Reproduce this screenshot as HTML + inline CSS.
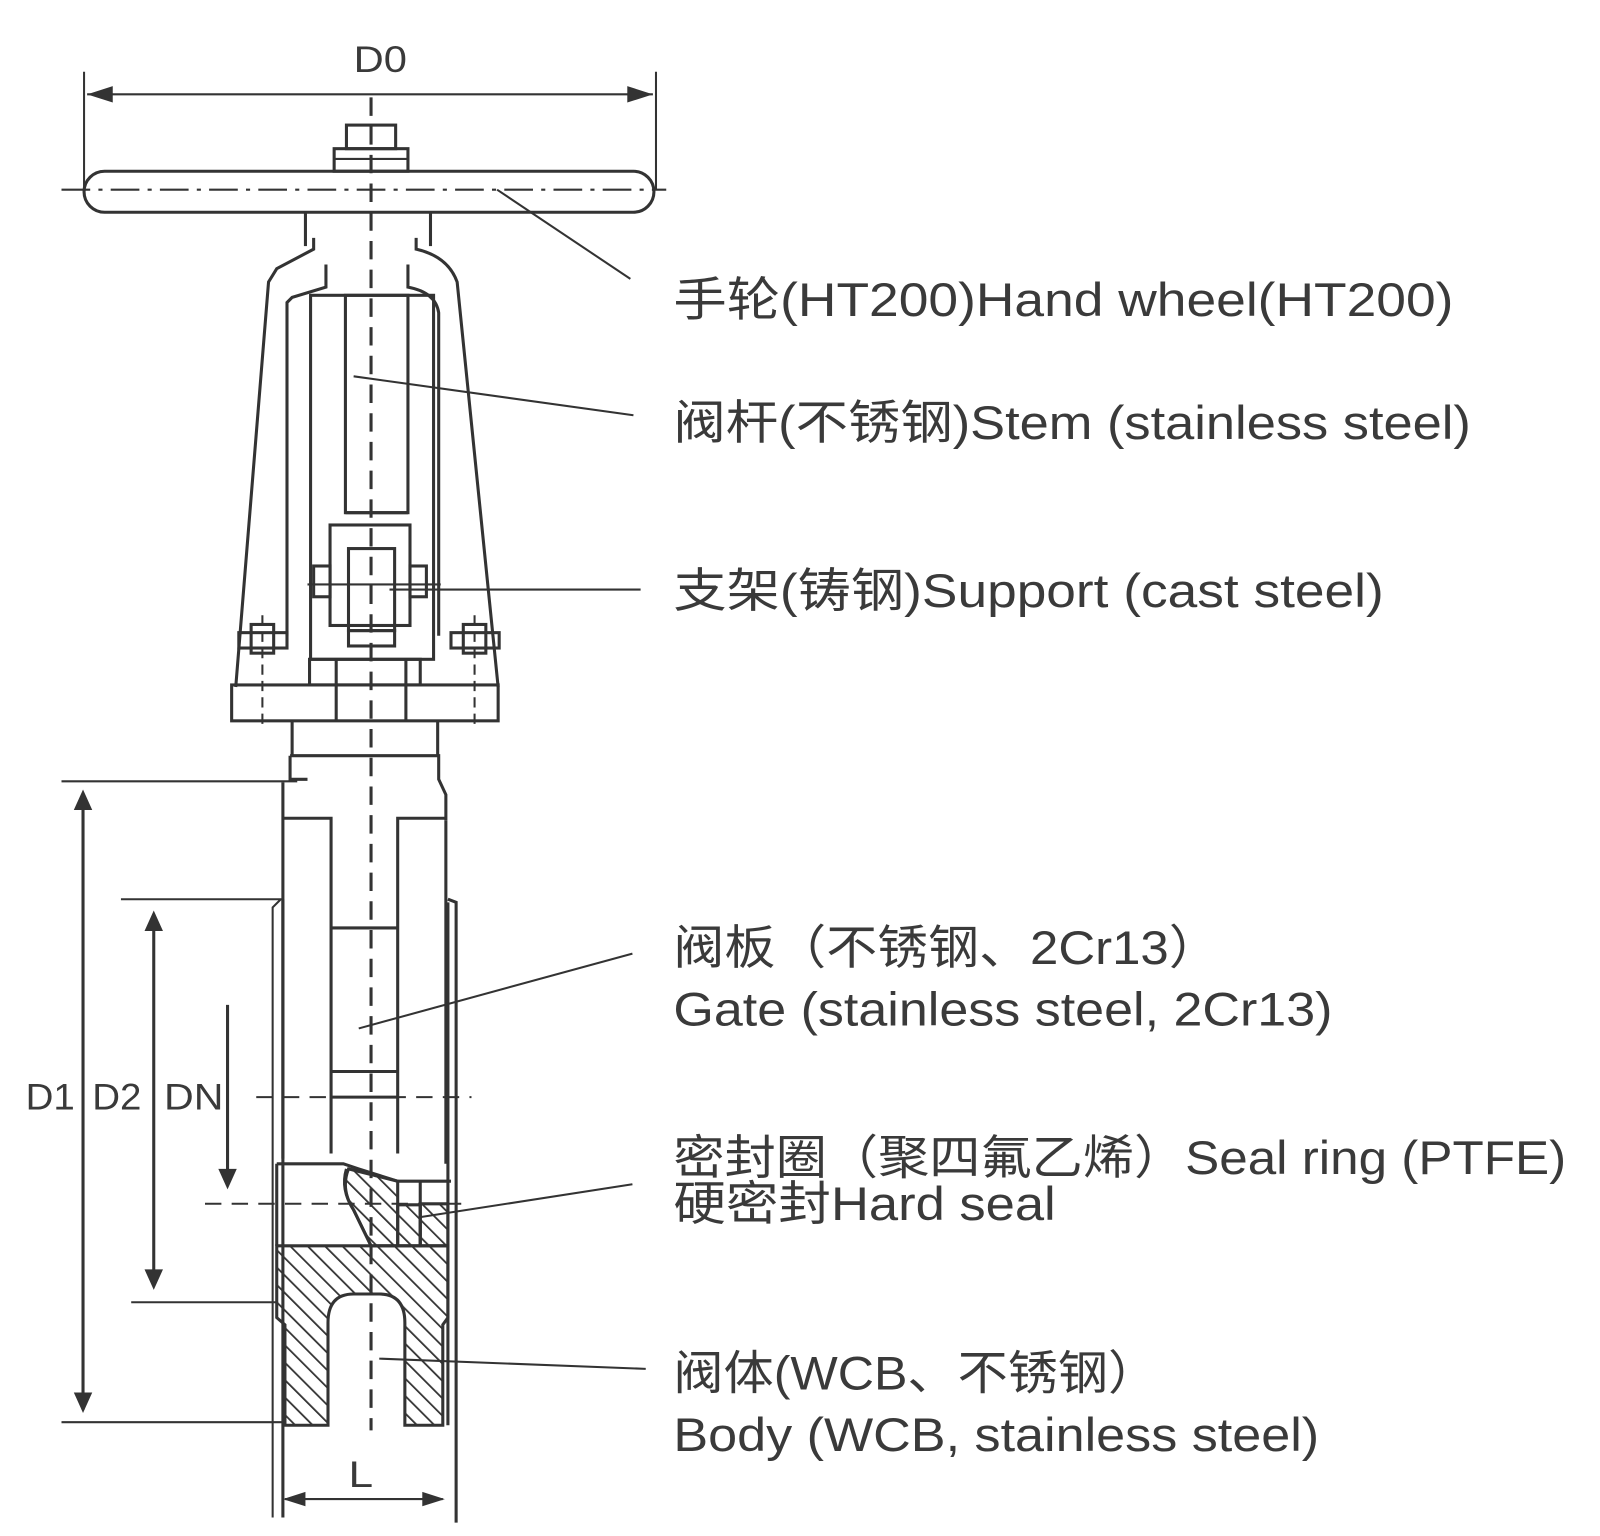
<!DOCTYPE html>
<html><head><meta charset="utf-8"><style>
html,body{margin:0;padding:0;background:#fff;}
svg{display:block;}
text{font-family:"Liberation Sans","Noto Sans CJK SC",sans-serif;fill:#3a3a3a;}
</style></head><body>
<svg width="1600" height="1536" viewBox="0 0 1561 1498" preserveAspectRatio="none" xmlns="http://www.w3.org/2000/svg">
<defs>
<pattern id="h" patternUnits="userSpaceOnUse" width="12" height="12" patternTransform="rotate(-45)">
<line x1="0" y1="0" x2="0" y2="12" stroke="#333" stroke-width="3.5"/>
</pattern>
</defs>
<g stroke="#333" stroke-width="3" fill="none">
<!-- centerline -->
<line x1="362" y1="95" x2="362" y2="1395" stroke-dasharray="18,10" stroke-width="3"/>
<!-- D0 -->
<line x1="82" y1="70" x2="82" y2="185" stroke-width="2"/>
<line x1="640" y1="70" x2="640" y2="185" stroke-width="2"/>
<line x1="85" y1="92" x2="637" y2="92" stroke-width="2"/>
<path d="M85 92 L110 84 L110 100 Z M637 92 L612 84 L612 100 Z" fill="#333" stroke="none"/>
<!-- hand wheel -->
<rect x="82" y="167" width="556" height="40" rx="20"/>
<line x1="60" y1="185" x2="650" y2="185" stroke-dasharray="28,8,4,8" stroke-width="2"/>
<rect x="338" y="122" width="48" height="23"/>
<rect x="326" y="145" width="72" height="22"/>
<line x1="326" y1="155" x2="398" y2="155" stroke-width="2"/>
<line x1="485" y1="185" x2="615" y2="272" stroke-width="2"/>
<!-- yoke -->
<line x1="298" y1="207" x2="298" y2="240"/>
<line x1="420" y1="207" x2="420" y2="240"/>
<path d="M306 232 V243 L270 262 L262 275 L230 670"/>
<path d="M318 258 V280 L285 290 L280 295 V620"/>
<path d="M406 232 V243 Q437 250 446 275 L486 670"/>
<path d="M398 258 V280 Q425 285 428 305 V620"/>
<rect x="303" y="288" width="120" height="355"/>
<rect x="337" y="288" width="61" height="212"/>
<line x1="337" y1="500" x2="398" y2="500"/>
<rect x="322" y="512" width="78" height="98"/>
<rect x="340" y="535" width="45" height="80"/>
<rect x="306" y="552" width="16" height="30"/>
<rect x="400" y="552" width="16" height="30"/>
<line x1="300" y1="570" x2="430" y2="570" stroke-width="2"/>
<rect x="340" y="615" width="45" height="15"/>
<!-- bolts -->
<rect x="233" y="617" width="47" height="15"/>
<rect x="245" y="609" width="22" height="28"/>
<rect x="440" y="617" width="47" height="15"/>
<rect x="452" y="609" width="22" height="28"/>
<line x1="256" y1="600" x2="256" y2="710" stroke-dasharray="10,6" stroke-width="2"/>
<line x1="463" y1="600" x2="463" y2="710" stroke-dasharray="10,6" stroke-width="2"/>
<!-- base plate -->
<rect x="302" y="643" width="108" height="25"/>
<rect x="226" y="668" width="260" height="35"/>
<line x1="328" y1="643" x2="328" y2="703"/>
<line x1="396" y1="643" x2="396" y2="703"/>
<!-- neck & bonnet -->
<path d="M285 703 V737 M427 703 V737"/>
<path d="M283 737 H428 V760 L435 775 V800"/>
<path d="M283 737 V760 H300 M276 763 V1130"/>
<!-- D1 -->
<line x1="60" y1="762" x2="290" y2="762" stroke-width="2"/>
<line x1="81" y1="780" x2="81" y2="1375" stroke-width="3"/>
<path d="M81 770 L72 790 L90 790 Z M81 1378 L72 1358 L90 1358 Z" fill="#333" stroke="none"/>
<line x1="60" y1="1387" x2="276" y2="1387" stroke-width="2"/>
<!-- body inner -->
<path d="M276 798 H323 V1125"/>
<path d="M435 798 H388 V1125"/>
<line x1="323" y1="905" x2="388" y2="905"/>
<line x1="323" y1="1045" x2="388" y2="1045"/>
<line x1="323" y1="1070" x2="388" y2="1070"/>
<line x1="435" y1="800" x2="435" y2="1135"/>
<path d="M266 1480 V885 L274 877 H118" stroke-width="2"/>
<path d="M445 1485 V880 L437 877"/>
<line x1="276" y1="877" x2="276" y2="1480"/>
<line x1="437" y1="880" x2="437" y2="1390"/>
<!-- D2 -->
<line x1="150" y1="900" x2="150" y2="1248" stroke-width="3"/>
<path d="M150 888 L141 908 L159 908 Z M150 1258 L141 1238 L159 1238 Z" fill="#333" stroke="none"/>
<line x1="128" y1="1270" x2="270" y2="1270" stroke-width="2"/>
<!-- DN -->
<line x1="222" y1="980" x2="222" y2="1150" stroke-width="3"/>
<path d="M222 1160 L213 1140 L231 1140 Z" fill="#333" stroke="none"/>
<line x1="250" y1="1070" x2="460" y2="1070" stroke-dasharray="16,10" stroke-width="2"/>
<line x1="200" y1="1174" x2="452" y2="1174" stroke-dasharray="16,10" stroke-width="2"/>
<!-- seat -->
<path d="M270 1135 H335 L350 1140 L388 1152 H440"/>
<line x1="270" y1="1135" x2="270" y2="1215"/>
<path d="M338 1140 Q332 1160 345 1180 L362 1215" />
<path d="M340 1140 L388 1152 V1215 H362 L345 1180 Q332 1160 340 1140 Z" fill="url(#h)"/>
<path d="M388 1175 L410 1175 V1215 H388 Z" fill="url(#h)"/>
<line x1="410" y1="1152" x2="410" y2="1215"/>
<path d="M410 1174 H437 V1215 H410 Z" fill="url(#h)"/>
<!-- body hatch -->
<path d="M270 1215 H437 V1285 L432 1292 V1390 H395 V1290 Q395 1262 370 1262 H345 Q320 1262 320 1290 V1390 H278 V1292 L270 1285 Z" fill="url(#h)"/>
<!-- L -->
<path d="M278 1462 H432" stroke-width="2"/>
<path d="M276 1462 L298 1455 L298 1469 Z M434 1462 L412 1455 L412 1469 Z" fill="#333" stroke="none"/>
<!-- leaders -->
<line x1="345" y1="367" x2="618" y2="405" stroke-width="2"/>
<line x1="380" y1="575" x2="625" y2="575" stroke-width="2"/>
<line x1="350" y1="1003" x2="617" y2="930" stroke-width="2"/>
<line x1="410" y1="1187" x2="617" y2="1155" stroke-width="2"/>
<line x1="370" y1="1325" x2="630" y2="1335" stroke-width="2"/>
</g>
<g font-size="36">
<text x="345" y="70" textLength="52" lengthAdjust="spacingAndGlyphs">D0</text>
<text x="25" y="1082" textLength="48" lengthAdjust="spacingAndGlyphs">D1</text>
<text x="90" y="1082" textLength="48" lengthAdjust="spacingAndGlyphs">D2</text>
<text x="160" y="1082" textLength="58" lengthAdjust="spacingAndGlyphs">DN</text>
<text x="340" y="1450" textLength="24" lengthAdjust="spacingAndGlyphs">L</text>
</g>
<g font-size="46">
<text x="657" y="308" textLength="761" lengthAdjust="spacingAndGlyphs">手轮(HT200)Hand wheel(HT200)</text>
<text x="657" y="428" textLength="778" lengthAdjust="spacingAndGlyphs">阀杆(不锈钢)Stem (stainless steel)</text>
<text x="657" y="592" textLength="693" lengthAdjust="spacingAndGlyphs">支架(铸钢)Support (cast steel)</text>
<text x="657" y="940" textLength="533" lengthAdjust="spacingAndGlyphs">阀板（不锈钢、2Cr13）</text>
<text x="657" y="1000" textLength="643" lengthAdjust="spacingAndGlyphs">Gate (stainless steel, 2Cr13)</text>
<text x="657" y="1145" textLength="871" lengthAdjust="spacingAndGlyphs">密封圈（聚四氟乙烯）Seal ring (PTFE)</text>
<text x="657" y="1190" textLength="373" lengthAdjust="spacingAndGlyphs">硬密封Hard seal</text>
<text x="657" y="1355" textLength="473" lengthAdjust="spacingAndGlyphs">阀体(WCB、不锈钢）</text>
<text x="657" y="1415" textLength="630" lengthAdjust="spacingAndGlyphs">Body (WCB, stainless steel)</text>
</g>
</svg>
</body></html>
